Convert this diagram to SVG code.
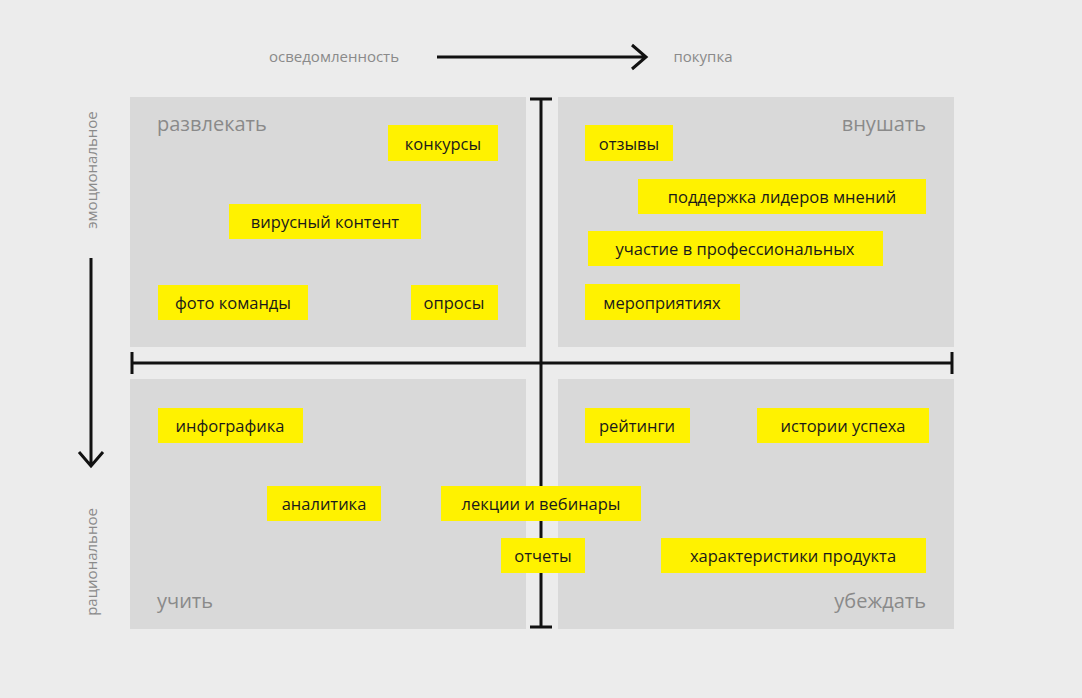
<svg xmlns="http://www.w3.org/2000/svg" width="1082" height="698" viewBox="0 0 1082 698">
<style>
.q{fill:#d9d9d9}
.b{fill:#fff200}
.t{font-family:"Open Sans","Noto Sans",sans-serif;font-size:16.5px;fill:#1a1a1a;text-anchor:middle;dominant-baseline:central;font-weight:500}
.h{font-family:"Open Sans","Noto Sans",sans-serif;font-size:20px;fill:#8a8a8a}
.a{font-family:"Open Sans","Noto Sans",sans-serif;font-size:15px;fill:#8a8a8a}
.ln{stroke:#111;stroke-width:3;fill:none}
</style>
<rect width="1082" height="698" fill="#ececec"/>
<g id="quadrants">
<rect class="q" x="130" y="97" width="396" height="250"/>
<rect class="q" x="558" y="97" width="396" height="250"/>
<rect class="q" x="130" y="379" width="396" height="250"/>
<rect class="q" x="558" y="379" width="396" height="250"/>
<text class="h" x="157" y="131">развлекать</text>
<text class="h" x="926" y="131" text-anchor="end">внушать</text>
<text class="h" x="157" y="608">учить</text>
<text class="h" x="926" y="608" text-anchor="end">убеждать</text>
</g>
<g id="connectors">
<path class="ln" d="M541 99V627M530 99H552M530 627H552"/>
<path class="ln" d="M132 363H952M132 352V374M952 352V374"/>
<path class="ln" d="M437 57H645M632 45L646 57L632 69"/>
<path class="ln" d="M91 258V465M79 452L91 466L103 452"/>
</g>
<g id="axis-labels">
<text class="a" x="334" y="62" text-anchor="middle">осведомленность</text>
<text class="a" x="703" y="62" text-anchor="middle">покупка</text>
<text class="a" transform="translate(97,170) rotate(-90)" text-anchor="middle">эмоциональное</text>
<text class="a" transform="translate(97,562) rotate(-90)" text-anchor="middle">рациональное</text>
</g>
<g id="n1"><rect class="b" x="388" y="125" width="110" height="36"/><text class="t" x="443" y="143">конкурсы</text></g>
<g id="n2"><rect class="b" x="229" y="204" width="192" height="35"/><text class="t" x="325" y="221">вирусный контент</text></g>
<g id="n3"><rect class="b" x="158" y="285" width="150" height="35"/><text class="t" x="233" y="302">фото команды</text></g>
<g id="n4"><rect class="b" x="411" y="285" width="87" height="35"/><text class="t" x="454" y="302">опросы</text></g>
<g id="n5"><rect class="b" x="585" y="125" width="88" height="36"/><text class="t" x="629" y="143">отзывы</text></g>
<g id="n6"><rect class="b" x="638" y="179" width="288" height="35"/><text class="t" x="782" y="196">поддержка лидеров мнений</text></g>
<g id="n7"><rect class="b" x="588" y="231" width="295" height="35"/><text class="t" x="735" y="248">участие в профессиональных</text></g>
<g id="n8"><rect class="b" x="585" y="284" width="155" height="36"/><text class="t" x="662" y="302">мероприятиях</text></g>
<g id="n9"><rect class="b" x="158" y="408" width="145" height="35"/><text class="t" x="230" y="425">инфографика</text></g>
<g id="n10"><rect class="b" x="267" y="486" width="114" height="35"/><text class="t" x="324" y="503">аналитика</text></g>
<g id="n11"><rect class="b" x="441" y="486" width="200" height="35"/><text class="t" x="541" y="503">лекции и вебинары</text></g>
<g id="n12"><rect class="b" x="501" y="538" width="84" height="35"/><text class="t" x="543" y="555">отчеты</text></g>
<g id="n13"><rect class="b" x="585" y="408" width="105" height="35"/><text class="t" x="637" y="425">рейтинги</text></g>
<g id="n14"><rect class="b" x="757" y="408" width="172" height="35"/><text class="t" x="843" y="425">истории успеха</text></g>
<g id="n15"><rect class="b" x="661" y="538" width="265" height="35"/><text class="t" x="793" y="555">характеристики продукта</text></g>
</svg>
